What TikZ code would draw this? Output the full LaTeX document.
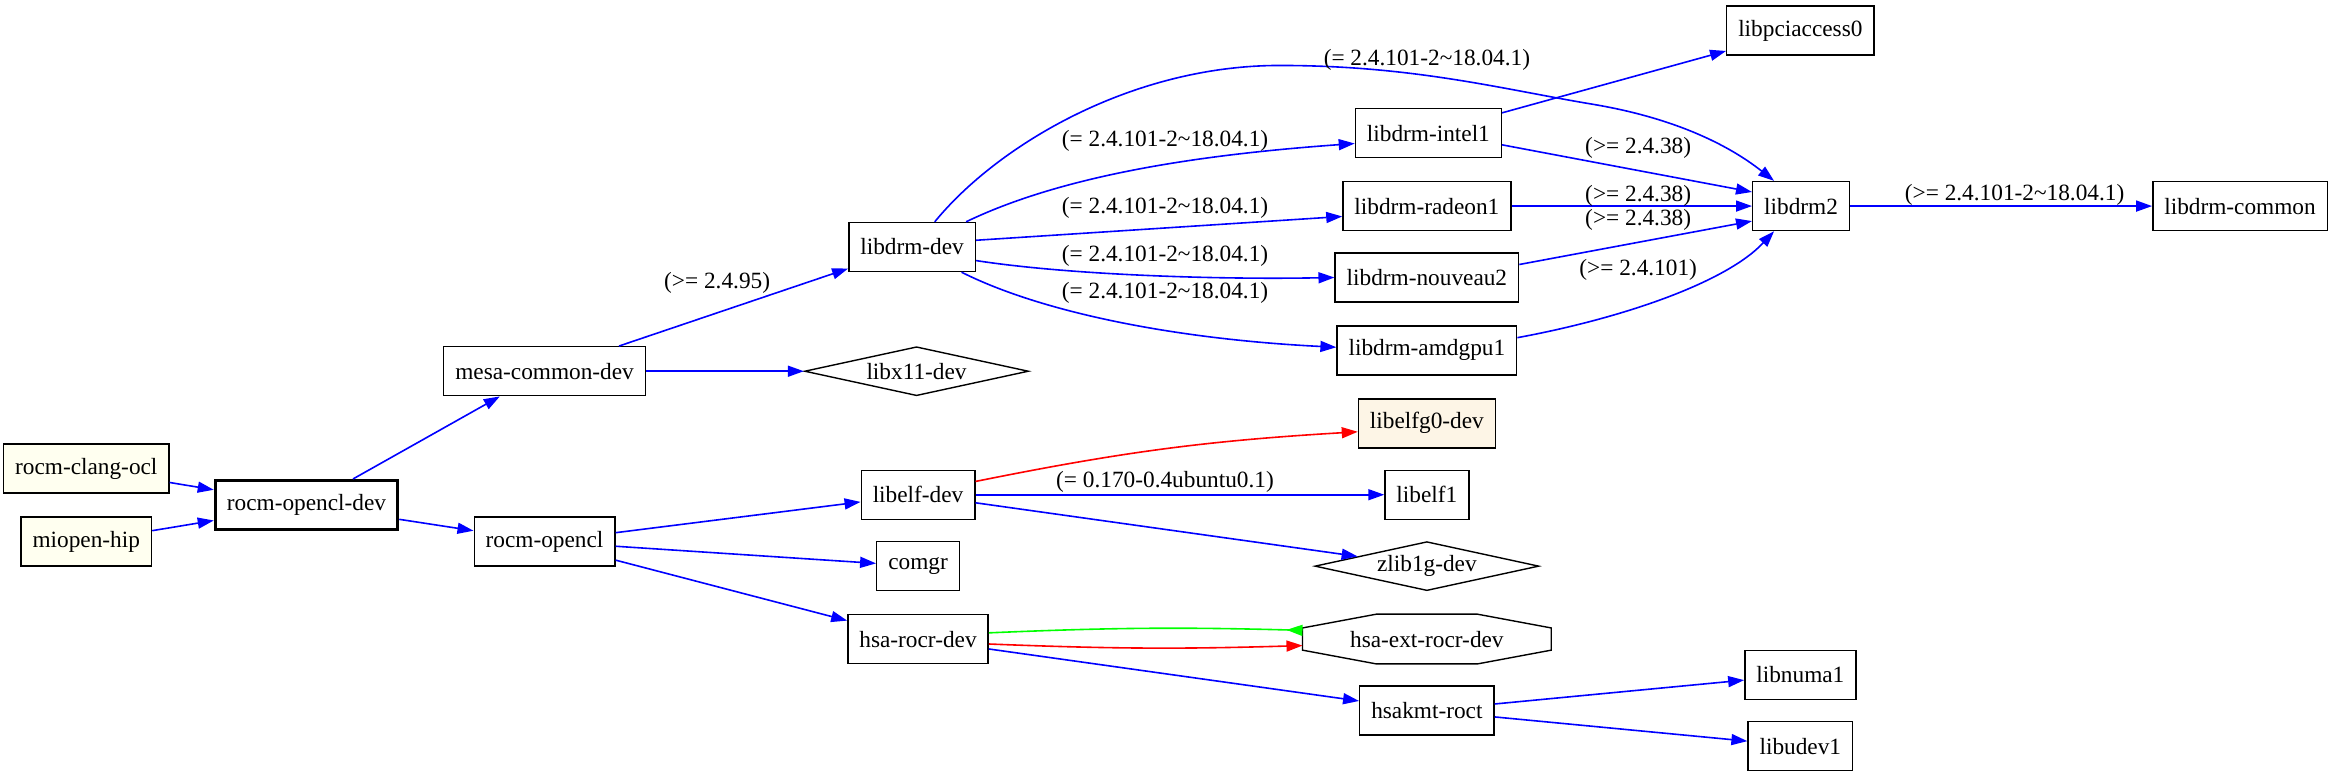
\documentclass[tikz,border=0pt]{standalone}
\usepackage{fontspec}
\setmainfont{Liberation Serif}
\usetikzlibrary{arrows.meta,shapes.geometric}
\definecolor{ivory}{HTML}{FFFFF0}
\definecolor{oldlace}{HTML}{FDF5E6}

\begin{document}
\begin{tikzpicture}[
  x=0.744pt, y=-0.744pt,
  every node/.style={font=\fontsize{11.65}{14}\selectfont},
  pkg/.style={draw=black, line width=0.7pt, rectangle,
    inner xsep=5.75pt, inner ysep=0pt, minimum height=24.5pt},
  pkgI/.style={pkg, fill=ivory},
  pkgL/.style={pkg, fill=oldlace},
  virt/.style={draw=black, line width=0.7pt, diamond, aspect=4.6,
    inner sep=0pt, minimum width=112pt, minimum height=24.5pt},
  octo/.style={rectangle, inner sep=0pt, minimum width=124pt, minimum height=24.5pt},
  lbl/.style={inner sep=0pt},
]
%-------------------------------------------------------------
% Custom colors
\newcommand{\colorDep}{blue}
\newcommand{\colorConf}{red}
\newcommand{\colorProv}{green}
\newcommand{\verdrm}{2.4.101-2\textasciitilde 18.04.1}

\tikzset{arrow/.style args={color #1}{draw,-{Triangle[length=8pt,width=5.5pt]},line width=0.8pt,#1}}
\tikzset{arrow/.default=color \colorDep}

\tikzset{arrowB/.style={arrow= color \colorDep}}
\tikzset{arrowR/.style={arrow= color \colorConf}}
\tikzset{arrowG/.style={draw,-{Triangle[length=8pt,width=5.5pt,reversed]},line width=0.8pt,\colorProv}}

\useasboundingbox (0,0) rectangle (1568,521.6);

%-------------------------------------------------------------
% Packages
\node[pkgI] (clang) at (58,315) {rocm-clang-ocl};
\node[pkgI] (miopen) at (58,364) {miopen-hip};
\node[pkg, line width=1.7pt] (ocldev) at (206,339.5) {rocm-opencl-dev};
%============================================================
\node[pkg] (mesa) at (366,249.5) {mesa-common-dev};
\node[pkg] (ocl) at (366,364) {rocm-opencl};
%============================================================
\node[pkg] (drmdev) at (613,166) {libdrm-dev};
\node[virt] (x11) at (616,249.5) {libx11-dev};
\node[pkg] (elfdev) at (617,332.5) {libelf-dev};
\node[pkg] (comgr) at (617,380.5) {comgr};
\node[pkg] (rocrdev) at (617,429.5) {hsa-rocr-dev};
%============================================================
\node[pkg] (intel) at (960,89.5) {libdrm-intel1};
\node[pkg] (radeon) at (959,138.5) {libdrm-radeon1};
\node[pkg] (nouveau) at (959,186.5) {libdrm-nouveau2};
\node[pkg] (amdgpu) at (959,235.5) {libdrm-amdgpu1};
\node[pkgL] (elfg0) at (959,284.5) {libelfg0-dev};
\node[pkg] (elf1) at (959,332.5) {libelf1};
\node[virt] (zlib) at (959,380.5) {zlib1g-dev};
\node[octo] (extrocr) at (959,429.5) {hsa-ext-rocr-dev};
\node[pkg] (hsakmt) at (959,477.5) {hsakmt-roct};
%============================================================
\node[pkg] (pci) at (1210,20.5) {libpciaccess0};
\node[pkg] (drm2) at (1210.5,138.5) {libdrm2};
\node[pkg] (numa) at (1210,453.5) {libnuma1};
\node[pkg] (udev) at (1210,501.5) {libudev1};
\node[pkg] (common) at (1505.5,138.5) {libdrm-common};

% octagon outline
\draw[line width=0.7pt] ([xshift=37pt]extrocr.north west) -- ([xshift=-37pt]extrocr.north east)
  -- ([yshift=-6.9pt]extrocr.north east) -- ([yshift=6.9pt]extrocr.south east)
  -- ([xshift=-37pt]extrocr.south east) -- ([xshift=37pt]extrocr.south west)
  -- ([yshift=6.9pt]extrocr.south west) -- ([yshift=-6.9pt]extrocr.north west) -- cycle;

%---------------------------------------------------
% Dependency lines
\draw[arrowB] (clang) -- (ocldev);
\draw[arrowB] (miopen) -- (ocldev);
\draw[arrowB] (ocldev) -- (mesa);
\draw[arrowB] (ocldev) -- (ocl);

\draw[arrowB] (mesa) -- (drmdev);
\draw[arrowB] (mesa) -- (x11);
\draw[arrowB] (ocl) -- (elfdev);
\draw[arrowB] (ocl) -- (comgr);
\draw[arrowB] (ocl) -- (rocrdev);

\draw[arrowB] (drmdev.48) .. controls (670,98) and (760,44) .. (860,44)
  .. controls (950,44) and (1010,60) .. (1070,70)
  .. controls (1130,80) and (1165,100) .. (drm2.137);
\draw[arrowB] (drmdev.25) .. controls (720,115) and (820,103) .. (intel.188);
\draw[arrowB] (drmdev.6) -- (radeon.187);
\draw[arrowB] (drmdev.-12) .. controls (720,185) and (820,188) .. (nouveau.west);
\draw[arrowB] (drmdev.-27) .. controls (700,210) and (790,228) .. (amdgpu.178);

\draw[arrowB] (intel) -- (pci);
\draw[arrowB] (intel.-9) -- (drm2.164);
\draw[arrowB] (radeon) -- (drm2);
\draw[arrowB] (nouveau.8.5) -- (drm2.197);
\draw[arrowB] (amdgpu.8.4) .. controls (1090,214) and (1160,190) .. (drm2.223);
\draw[arrowB] (drm2) -- (common);

\draw[arrowR] (elfdev.13) to[bend left=4] (elfg0.187);
\draw[arrowB] (elfdev) -- (elf1);
\draw[arrowB] (elfdev) -- (zlib);

\draw[arrowG] (rocrdev.5.5) to[bend left=2] (extrocr.176.2);
\draw[arrowR] (rocrdev.-4.3) to[bend right=2] (extrocr.183.8);
\draw[arrowB] (rocrdev) -- (hsakmt);
\draw[arrowB] (hsakmt) -- (numa);
\draw[arrowB] (hsakmt) -- (udev);

%---------------------------------------------------
% Version labels
\node[lbl] (l-arc) at (959,40) {(= \verdrm)};
\node[lbl] (l-intel) at (783,95) {(= \verdrm)};
\node[lbl] (l-radeon) at (783,140) {(= \verdrm)};
\node[lbl] (l-nouveau) at (783,172) {(= \verdrm)};
\node[lbl] (l-amdgpu) at (783,197) {(= \verdrm)};
\node[lbl] (l-mesa) at (482,190) {(>= 2.4.95)};
\node[lbl] (l-intel2) at (1101,99.7) {(>= 2.4.38)};
\node[lbl] (l-radeon2) at (1101,131.5) {(>= 2.4.38)};
\node[lbl] (l-nouveau2) at (1101,147.9) {(>= 2.4.38)};
\node[lbl] (l-amdgpu2) at (1101,181.4) {(>= 2.4.101)};
\node[lbl] (l-common) at (1354,131) {(>= \verdrm)};
\node[lbl] (l-elf1) at (783,324) {(= 0.170-0.4ubuntu0.1)};

\end{tikzpicture}
\end{document}
